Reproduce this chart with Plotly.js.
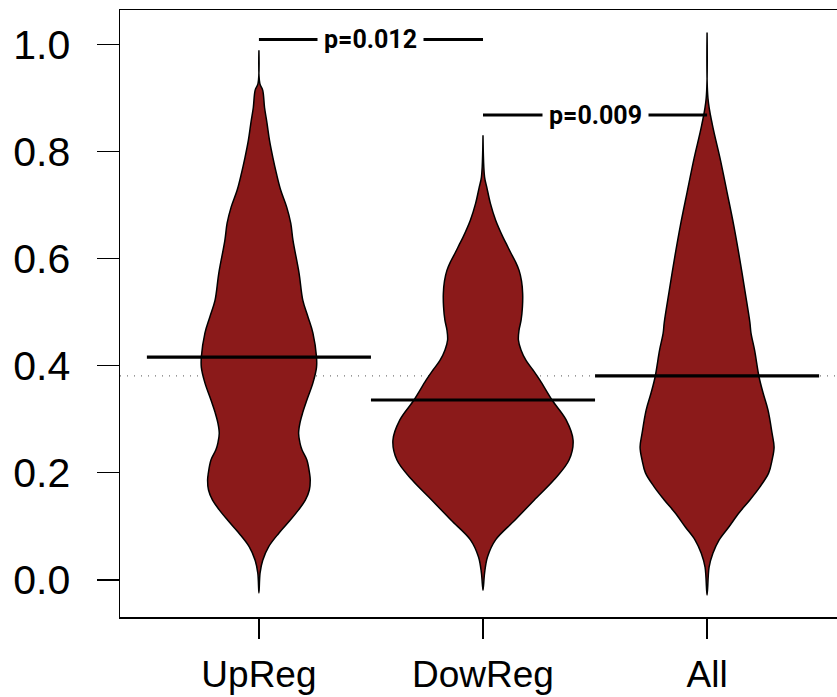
<!DOCTYPE html>
<html>
<head>
<meta charset="utf-8">
<script src="https://cdn.plot.ly/plotly-3.0.1.min.js"></script>
<style>
  html, body { margin: 0; padding: 0; overflow: hidden; background: #fff; }
  #chart { width: 850px; height: 697px; }
</style>
</head>
<body>
<div id="chart"></div>
<script>
// ---- data ----
const categories = ['UpReg', 'DowReg', 'All'];

// density outlines: y levels and half-widths (in category units)
const upRegY = [-0.024, 0.013, 0.037, 0.062, 0.087, 0.112, 0.131, 0.149, 0.168, 0.187, 0.199, 0.224, 0.243, 0.256, 0.274, 0.293, 0.312, 0.336, 0.368, 0.397, 0.416, 0.461, 0.491, 0.522, 0.573, 0.634, 0.666, 0.696, 0.728, 0.759, 0.789, 0.821, 0.853, 0.882, 0.914, 0.927, 0.989];
const upRegW = [0, 0.005, 0.017, 0.043, 0.088, 0.140, 0.177, 0.207, 0.225, 0.229, 0.226, 0.214, 0.192, 0.183, 0.177, 0.183, 0.195, 0.214, 0.241, 0.257, 0.257, 0.241, 0.219, 0.196, 0.179, 0.152, 0.142, 0.124, 0.097, 0.078, 0.062, 0.047, 0.036, 0.025, 0.017, 0.004, 0];

const dowRegY = [-0.019, 0.013, 0.043, 0.075, 0.112, 0.149, 0.187, 0.224, 0.261, 0.299, 0.336, 0.373, 0.392, 0.410, 0.429, 0.448, 0.467, 0.485, 0.510, 0.535, 0.558, 0.578, 0.594, 0.610, 0.625, 0.640, 0.672, 0.703, 0.733, 0.752, 0.830];
const dowRegW = [0, 0.007, 0.020, 0.056, 0.143, 0.228, 0.317, 0.384, 0.402, 0.371, 0.308, 0.254, 0.223, 0.192, 0.170, 0.158, 0.161, 0.170, 0.176, 0.177, 0.172, 0.161, 0.145, 0.125, 0.107, 0.089, 0.056, 0.033, 0.017, 0.007, 0];

const allY = [-0.028, 0.024, 0.050, 0.075, 0.099, 0.125, 0.149, 0.174, 0.200, 0.224, 0.248, 0.274, 0.317, 0.349, 0.379, 0.429, 0.461, 0.481, 0.537, 0.601, 0.662, 0.724, 0.787, 0.849, 0.899, 1.022];
const allW = [0, 0.009, 0.026, 0.054, 0.097, 0.142, 0.190, 0.236, 0.275, 0.290, 0.299, 0.290, 0.272, 0.250, 0.232, 0.212, 0.196, 0.191, 0.170, 0.145, 0.119, 0.089, 0.058, 0.024, 0.004, 0];

const beanLines = [0.416, 0.336, 0.381];   // per-group bean lines
const overallLine = 0.381;                  // overall reference line

const pTexts = ['p=0.012', 'p=0.009'];
const pFrom = [1, 2];
const pTo = [2, 3];
const pY = [1.009, 0.868];

const yTickVals = [0, 0.2, 0.4, 0.6, 0.8, 1.0];
const yTickText = ['0.0', '0.2', '0.4', '0.6', '0.8', '1.0'];

// ---- build traces ----
const profiles = [[upRegY, upRegW], [dowRegY, dowRegW], [allY, allW]];
const fillColor = '#8B1A1A';
const traces = [];

// overall dotted line (behind beans)
traces.push({
  x: [0.38, 3.62], y: [overallLine, overallLine], mode: 'lines', type: 'scatter',
  line: { color: '#777', width: 1.3, dash: '1px,6px' }, hoverinfo: 'skip', showlegend: false
});

profiles.forEach(([ys, ws], i) => {
  const c = i + 1;
  const xs = [], yy = [];
  for (let k = 0; k < ys.length; k++) { xs.push(c + ws[k]); yy.push(ys[k]); }
  for (let k = ys.length - 1; k >= 0; k--) { xs.push(c - ws[k]); yy.push(ys[k]); }
  traces.push({
    x: xs, y: yy, type: 'scatter', mode: 'lines', fill: 'toself',
    fillcolor: fillColor, line: { color: '#000', width: 1.5, shape: 'spline', smoothing: 1 },
    hoverinfo: 'skip', showlegend: false
  });
});

beanLines.forEach((v, i) => {
  const c = i + 1;
  traces.push({
    x: [c - 0.5, c + 0.5], y: [v, v], type: 'scatter', mode: 'lines',
    line: { color: '#000', width: 3.2 }, hoverinfo: 'skip', showlegend: false
  });
});

const annotations = [];
pTexts.forEach((t, i) => {
  traces.push({
    x: [pFrom[i], pTo[i]], y: [pY[i], pY[i]], type: 'scatter', mode: 'lines',
    line: { color: '#000', width: 3 }, hoverinfo: 'skip', showlegend: false
  });
  annotations.push({
    x: (pFrom[i] + pTo[i]) / 2, y: pY[i], xref: 'x', yref: 'y', text: '<b>' + t + '</b>',
    showarrow: false, bgcolor: '#fff', borderpad: 6,
    font: { family: 'Roboto, "Liberation Sans", sans-serif', size: 25, color: '#000' }
  });
});

const layout = {
  width: 850, height: 697,
  margin: { l: 120, r: 4, t: 10, b: 80 },
  paper_bgcolor: '#fff', plot_bgcolor: '#fff',
  showlegend: false,
  font: { family: '"Liberation Sans", Arial, sans-serif', color: '#000' },
  xaxis: {
    range: [0.38, 3.62], tickvals: [1, 2, 3], ticktext: categories,
    showgrid: false, zeroline: false, showline: true, mirror: true,
    linecolor: '#000', linewidth: 1.5, ticks: 'outside', ticklen: 20, tickwidth: 1.2,
    tickcolor: '#000', tickfont: { size: 37, family: '"Liberation Sans", Arial, sans-serif' },
    ticklabelstandoff: 4, fixedrange: true
  },
  yaxis: {
    range: [-0.069, 1.064], tickvals: yTickVals, ticktext: yTickText,
    showgrid: false, zeroline: false, showline: true, mirror: true,
    linecolor: '#000', linewidth: 1.5, ticks: 'outside', ticklen: 22, tickwidth: 1.2,
    tickcolor: '#000', tickfont: { size: 41, family: '"Liberation Sans", Arial, sans-serif' },
    ticklabelstandoff: 18, fixedrange: true
  },
  annotations: annotations
};

Plotly.newPlot('chart', traces, layout, { staticPlot: true, displayModeBar: false });
</script>
</body>
</html>
